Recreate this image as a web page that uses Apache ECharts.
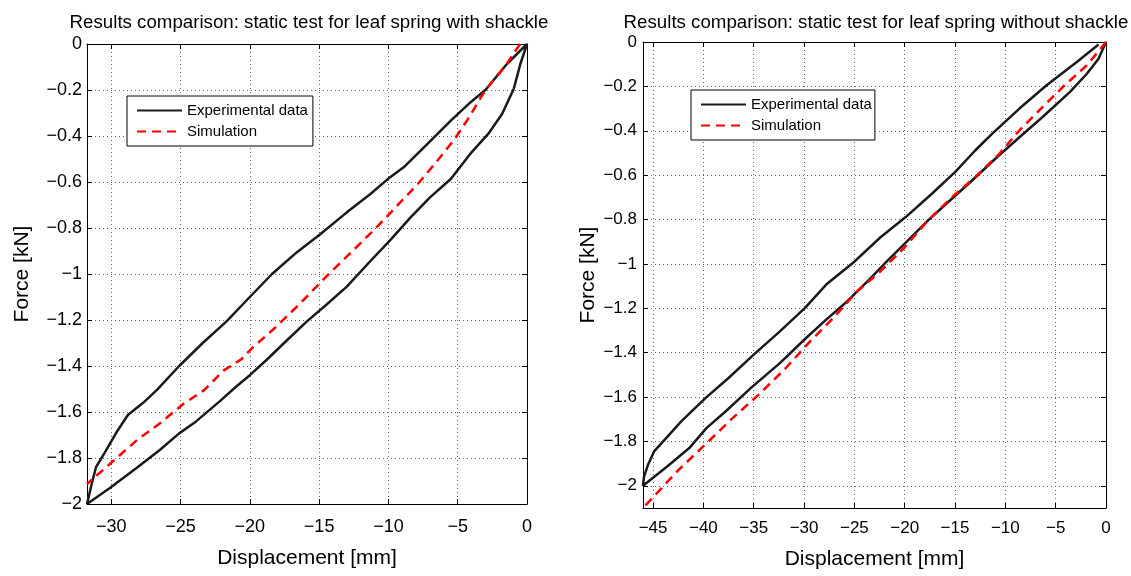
<!DOCTYPE html>
<html>
<head>
<meta charset="utf-8">
<title>Leaf spring static test</title>
<script src="https://cdn.jsdelivr.net/npm/echarts@6/dist/echarts.min.js"></script>
<style>
html, body { margin: 0; padding: 0; background: #fff; }
#chart { width: 1131px; height: 576px; }
</style>
</head>
<body>
<div id="chart"></div>
<script>
// leaf spring WITH shackle - experimental loop (down the lower branch, back up the upper one)
var withExpDisp = [0, -0.48, -0.96, -1.8, -2.8, -4.1, -5.5, -7.0, -8.4, -9.9, -11.4, -13.0, -14.5, -15.9, -17.3, -18.8, -20.0, -21.0, -22.2, -23.9, -25.1, -26.5, -28.2, -30.1, -31.75,
                   -31.4, -31.1, -30.5, -29.6, -28.8, -27.7, -26.7, -25.1, -23.4, -21.7, -20.0, -18.4, -16.6, -14.9, -13.0, -11.3, -9.9, -8.9, -7.2, -5.5, -4.2, -3.0, -1.45, 0];
var withExpForce = [0, -0.087, -0.196, -0.304, -0.391, -0.478, -0.587, -0.667, -0.754, -0.855, -0.95, -1.055, -1.135, -1.207, -1.287, -1.374, -1.44, -1.49, -1.555, -1.642, -1.693, -1.765, -1.845, -1.93, -2.0,
                    -1.91, -1.84, -1.78, -1.686, -1.613, -1.56, -1.504, -1.40, -1.30, -1.207, -1.1, -1.0, -0.905, -0.826, -0.732, -0.652, -0.58, -0.536, -0.435, -0.333, -0.26, -0.2, -0.087, 0];
var withSimDisp = [-0.5, -1.5, -3.0, -4.3, -5.3, -6.5, -7.9, -9.4, -10.9, -12.5, -14.5, -16.4, -18.2, -19.8, -20.6, -21.9, -23.3, -24.8, -26.5, -28.1, -29.8, -31.75];
var withSimForce = [0, -0.09, -0.2, -0.33, -0.42, -0.51, -0.61, -0.705, -0.8, -0.895, -1.012, -1.13, -1.235, -1.32, -1.37, -1.42, -1.505, -1.565, -1.65, -1.72, -1.81, -1.913];

// leaf spring WITHOUT shackle
var withoutExpDisp = [0, -0.74, -1.9, -3.6, -6.3, -8.6, -11.0, -13.3, -15.7, -17.7, -19.7, -21.7, -23.5, -25.7, -27.8, -29.8, -32.4, -35.3, -37.8, -39.7, -41.4, -43.6, -46.0,
                      -45.9, -45.5, -44.9, -43.7, -42.2, -39.8, -37.5, -35.0, -32.4, -29.9, -27.8, -25.0, -22.4, -19.9, -17.3, -15.0, -13.0, -11.3, -8.6, -5.9, -2.9, -0.74];
var withoutExpForce = [0, -0.075, -0.143, -0.226, -0.338, -0.429, -0.526, -0.624, -0.722, -0.805, -0.895, -0.985, -1.07, -1.168, -1.251, -1.334, -1.447, -1.56, -1.665, -1.74, -1.83, -1.913, -2.0,
                       -1.96, -1.905, -1.845, -1.785, -1.71, -1.605, -1.514, -1.409, -1.304, -1.198, -1.093, -0.99, -0.88, -0.789, -0.684, -0.586, -0.489, -0.413, -0.3, -0.195, -0.09, -0.011];
var withoutSimDisp = [0, -1.9, -4.3, -6.3, -8.6, -10.6, -13.0, -15.3, -17.7, -20.0, -22.4, -24.7, -27.1, -29.4, -31.8, -34.5, -37.1, -39.5, -42.5, -46.0];
var withoutSimForce = [0, -0.105, -0.203, -0.293, -0.398, -0.504, -0.609, -0.699, -0.805, -0.925, -1.033, -1.123, -1.244, -1.349, -1.469, -1.589, -1.695, -1.8, -1.93, -2.1];

var titles = ['Results comparison: static test for leaf spring with shackle',
              'Results comparison: static test for leaf spring without shackle'];
var legendNames = ['Experimental data', 'Simulation'];

function pairs(xs, ys) {
    var out = [];
    for (var i = 0; i < xs.length; i++) out.push([xs[i], ys[i]]);
    return out;
}

function fmt(v) {
    var s = String(Math.round(v * 100) / 100);
    return s.replace('-', '\u2212');
}

var font = 'Liberation Sans, Arial, Helvetica, sans-serif';
var dotted = { color: '#666', type: [1, 3], width: 1 };
var blackLine = { show: true, onZero: false, lineStyle: { color: '#000', width: 1 } };
var tickIn = { show: true, inside: true, length: 5, lineStyle: { color: '#000' } };

var myChart = echarts.init(document.getElementById('chart'));

var grids = [
    { left: 87, top: 44, width: 440, height: 460 },
    { left: 643, top: 42, width: 463, height: 466 }
];
var xMin = [-31.75, -46];
var yMin = [-2, -2.1];
var labelSize = [18, 17];
var xLabelMargin = [14, 12];
var yLabelMargin = [5, 6];
var xNameGap = [44, 41];
var yNameGap = [54, 44];

var xAxes = [], yAxes = [];
for (var g = 0; g < 2; g++) {
    xAxes.push({
        type: 'value', gridIndex: g, min: xMin[g], max: 0,
        minInterval: 5, maxInterval: 5,
        name: 'Displacement [mm]', nameLocation: 'middle', nameGap: xNameGap[g],
        nameTextStyle: { fontFamily: font, fontSize: 21, color: '#000' },
        axisLine: blackLine, axisTick: tickIn,
        axisLabel: { fontFamily: font, fontSize: labelSize[g], color: '#000', margin: xLabelMargin[g], showMinLabel: false, formatter: fmt },
        splitLine: { show: true, lineStyle: dotted }
    });
    xAxes.push({
        type: 'value', gridIndex: g, position: 'top', min: xMin[g], max: 0,
        minInterval: 5, maxInterval: 5,
        axisLine: blackLine, axisTick: tickIn,
        axisLabel: { show: false }, splitLine: { show: false }
    });
    yAxes.push({
        type: 'value', gridIndex: g, min: yMin[g], max: 0,
        minInterval: 0.2, maxInterval: 0.2,
        name: 'Force [kN]', nameLocation: 'middle', nameGap: yNameGap[g],
        nameTextStyle: { fontFamily: font, fontSize: 21, color: '#000' },
        axisLine: blackLine, axisTick: tickIn,
        axisLabel: { fontFamily: font, fontSize: labelSize[g], color: '#000', margin: yLabelMargin[g], showMinLabel: g === 0, formatter: fmt },
        splitLine: { show: true, lineStyle: dotted }
    });
    yAxes.push({
        type: 'value', gridIndex: g, position: 'right', min: yMin[g], max: 0,
        minInterval: 0.2, maxInterval: 0.2,
        axisLine: blackLine, axisTick: tickIn,
        axisLabel: { show: false }, splitLine: { show: false }
    });
}

function expSeries(idx, data) {
    return {
        name: legendNames[0], type: 'line', xAxisIndex: idx * 2, yAxisIndex: idx * 2,
        data: data, symbol: 'none', smooth: false, z: 3,
        lineStyle: { color: '#1a1a1a', width: 2.5 }, itemStyle: { color: '#1a1a1a' }
    };
}
function simSeries(idx, data) {
    return {
        name: legendNames[1], type: 'line', xAxisIndex: idx * 2, yAxisIndex: idx * 2,
        data: data, symbol: 'none', smooth: false, z: 4,
        lineStyle: { color: '#ff0000', width: 2.5, type: [9, 6] }, itemStyle: { color: '#ff0000' }
    };
}

function legendAt(left, top, padRight) {
    return {
        data: legendNames, orient: 'vertical', left: left, top: top,
        itemWidth: 45, itemHeight: 14, itemGap: 6,
        padding: [7, padRight, 7, 9],
        borderColor: '#000', borderWidth: 1, backgroundColor: '#fff',
        itemStyle: { opacity: 0, borderWidth: 0 },
        textStyle: { fontFamily: font, fontSize: 15, color: '#000' },
        selectedMode: false
    };
}

var option = {
    animation: false,
    backgroundColor: '#fff',
    title: [
        { text: titles[0], left: 304, top: 8, textAlign: 'center',
          textStyle: { fontFamily: font, fontSize: 18.7, fontWeight: 'normal', color: '#000' } },
        { text: titles[1], left: 871, top: 8, textAlign: 'center',
          textStyle: { fontFamily: font, fontSize: 18.7, fontWeight: 'normal', color: '#000' } }
    ],
    legend: [legendAt(127, 96, 5), legendAt(691, 90, 3)],
    grid: grids,
    xAxis: xAxes,
    yAxis: yAxes,
    series: [
        expSeries(0, pairs(withExpDisp, withExpForce)),
        simSeries(0, pairs(withSimDisp, withSimForce)),
        expSeries(1, pairs(withoutExpDisp, withoutExpForce)),
        simSeries(1, pairs(withoutSimDisp, withoutSimForce))
    ]
};

myChart.setOption(option);
window.addEventListener('resize', function () {
    myChart.resize();
});
</script>
</body>
</html>
